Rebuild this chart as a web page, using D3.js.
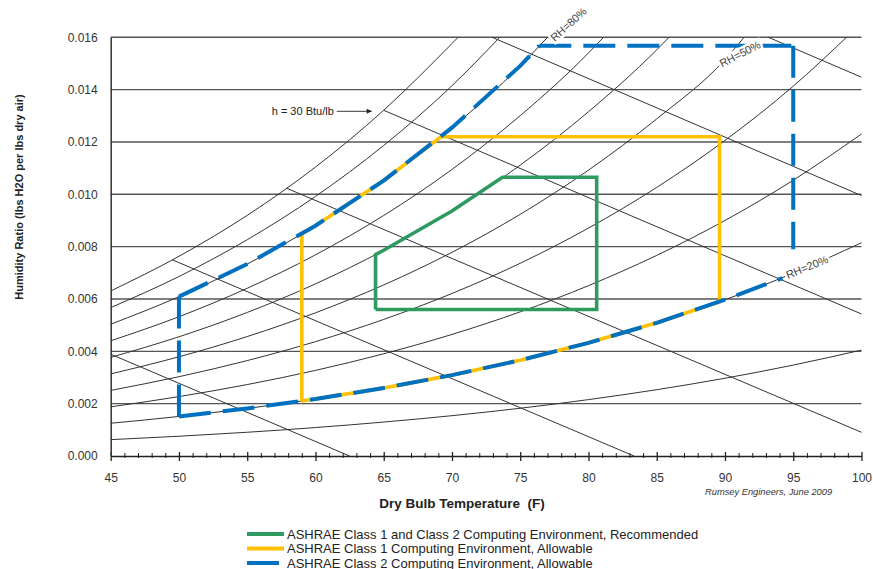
<!DOCTYPE html>
<html><head><meta charset="utf-8">
<script src="https://cdn.jsdelivr.net/npm/d3@7"></script>
<style>
body{margin:0;background:#fff;}
svg{display:block;font-family:Arial,"Liberation Sans",sans-serif;}
</style></head><body>
<svg id="chart" width="873" height="569"></svg>
<script>
// ---------- data ----------
const xTickLabels = [45,50,55,60,65,70,75,80,85,90,95,100];
const yTickLabels = [0.000,0.002,0.004,0.006,0.008,0.010,0.012,0.014,0.016];

// relative-humidity curves: [dry bulb F, humidity ratio]
const rh10  = [[45,0.000625],[50,0.000755],[55,0.000907],[60,0.001087],[65,0.001297],[70,0.001541],[75,0.001825],[80,0.002155],[85,0.002534],[90,0.002972],[95,0.003474],[100,0.004048]];
const rh20  = [[45,0.001251],[50,0.001511],[55,0.001818],[60,0.002177],[65,0.002599],[70,0.003090],[75,0.003661],[80,0.004324],[85,0.005090],[90,0.005972],[95,0.006987],[100,0.008150]];
const rh30  = [[45,0.001878],[50,0.002270],[55,0.002730],[60,0.003271],[65,0.003906],[70,0.004646],[75,0.005508],[80,0.006509],[85,0.007666],[90,0.009001],[95,0.010539],[100,0.012305]];
const rh40  = [[45,0.002507],[50,0.003030],[55,0.003646],[60,0.004370],[65,0.005219],[70,0.006210],[75,0.007366],[80,0.008709],[85,0.010264],[90,0.012060],[95,0.014132],[98.9,0.016]];
const rh50  = [[45,0.003137],[50,0.003792],[55,0.004564],[60,0.005472],[65,0.006537],[70,0.007782],[75,0.009235],[80,0.010924],[85,0.012883],[90,0.015148],[91.4,0.016]];
const rh60  = [[45,0.003768],[50,0.004556],[55,0.005485],[60,0.006577],[65,0.007861],[70,0.009362],[75,0.011115],[80,0.013155],[85,0.015523],[85.9,0.016]];
const rh70  = [[45,0.004401],[50,0.005322],[55,0.006409],[60,0.007687],[65,0.009191],[70,0.010950],[75,0.013006],[80,0.015402],[81.1,0.016]];
const rh80  = [[45,0.005035],[50,0.006089],[55,0.007335],[60,0.008801],[65,0.010526],[70,0.012546],[75,0.014908],[77.0,0.016]];
const rh90  = [[45,0.005670],[50,0.006859],[55,0.008264],[60,0.009919],[65,0.011867],[70,0.014150],[73.5,0.016]];
const rh100 = [[45,0.006306],[50,0.007631],[55,0.009196],[60,0.011041],[65,0.013213],[70,0.015762],[70.45,0.016]];

// enthalpy lines (15..40 Btu/lb)
const enth15 = [[45,0.00389],[62.5,0]];
const enth20 = [[49.5,0.00750],[83.33,0]];
const enth25 = [[57.9,0.01023],[100,0.000905]];
const enth30 = [[65,0.01321],[100,0.005428]];
const enth35 = [[72.94,0.016],[100,0.009951]];
const enth40 = [[93.18,0.016],[100,0.014474]];

// ASHRAE envelopes
const recommended = [[64.4,0.0056],[64.4,0.0077],[65,0.007861],[70,0.009362],[73.7,0.01065],[80.6,0.01065],[80.6,0.0056],[64.4,0.0056]];
const class1 = [[59,0.0021],[59,0.00849],[60,0.008801],[65,0.010526],[69.2,0.0122],[89.6,0.0122],[89.6,0.005896],[85,0.005090],[80,0.004324],[75,0.003661],[70,0.003090],[65,0.002599],[60,0.002177],[59,0.0021]];
const class2Left  = [[50,0.001511],[50,0.006089]];
const class2Rh80  = [[50,0.006089],[55,0.007335],[60,0.008801],[65,0.010526],[70,0.012546],[75,0.014908],[76.4,0.01568]];
const class2Top   = [[76.4,0.01568],[95,0.01568]];
const class2Right = [[95,0.01568],[95,0.0079]];
const class2Rh20  = [[50,0.001511],[55,0.001818],[60,0.002177],[65,0.002599],[70,0.003090],[75,0.003661],[80,0.004324],[85,0.005090],[90,0.005972],[94.2,0.0068]];

const legendLabels = [
  "ASHRAE Class 1 and Class 2 Computing Environment, Recommended",
  "ASHRAE Class 1 Computing Environment, Allowable",
  "ASHRAE Class 2 Computing Environment, Allowable"
];

// ---------- drawing ----------
const svg = d3.select("#chart");
const x = d3.scaleLinear().domain([45,100]).range([110.7,861.5]);
const y = d3.scaleLinear().domain([0,0.016]).range([456,37.3]);

const GREEN = "#2f9a60", YELLOW = "#ffc000", BLUE = "#0070c0";

// horizontal grid
svg.append("g").selectAll("line").data(yTickLabels.filter(d=>d>0)).join("line")
  .attr("x1", x(45)).attr("x2", x(100))
  .attr("y1", d=>y(d)).attr("y2", d=>y(d))
  .attr("stroke","#555").attr("stroke-width",1.4);

const lineGen = d3.line().x(d=>x(d[0])).y(d=>y(d[1]));
const curveGen = d3.line().x(d=>x(d[0])).y(d=>y(d[1])).curve(d3.curveMonotoneX);

// psychrometric background lines
const gPsy = svg.append("g").attr("fill","none").attr("stroke","#333").attr("stroke-width",1);
[rh10,rh20,rh30,rh40,rh50,rh60,rh70,rh80,rh90,rh100].forEach(c=>gPsy.append("path").attr("d",curveGen(c)));
[enth15,enth20,enth25,enth30,enth35,enth40].forEach(c=>gPsy.append("path").attr("d",lineGen(c)));

// envelopes
svg.append("path").attr("d",lineGen(recommended)).attr("fill","none")
  .attr("stroke",GREEN).attr("stroke-width",3.6).attr("stroke-linejoin","miter");
svg.append("path").attr("d",lineGen(class1)).attr("fill","none")
  .attr("stroke",YELLOW).attr("stroke-width",3.6).attr("stroke-linejoin","miter");
const gBlue = svg.append("g").attr("fill","none").attr("stroke",BLUE).attr("stroke-width",4)
  .attr("stroke-dasharray","32,12");
[class2Left,class2Rh80,class2Top,class2Right,class2Rh20].forEach(c=>gBlue.append("path").attr("d",lineGen(c)));

// axes
const xAxisG = svg.append("g").attr("transform",`translate(0,${y(0)})`)
  .call(d3.axisBottom(x).tickValues(xTickLabels).tickSize(5).tickSizeOuter(0).tickPadding(12.5));
xAxisG.select(".domain").attr("stroke","#222").attr("stroke-width",1.6);
xAxisG.selectAll(".tick line").attr("y1",-4).attr("y2",5).attr("stroke","#222").attr("stroke-width",1.3);
xAxisG.selectAll(".tick text").attr("font-size",12).attr("fill","#333").attr("font-family","Arial, Liberation Sans, sans-serif");

const minorG = svg.append("g").attr("transform",`translate(0,${y(0)})`)
  .call(d3.axisBottom(x).tickValues(d3.range(45,101,1).filter(v=>v%5!==0)).tickSize(2).tickSizeOuter(0).tickFormat(""));
minorG.select(".domain").remove();
minorG.selectAll(".tick line").attr("y1",-3).attr("y2",2).attr("stroke","#222").attr("stroke-width",1);

const yAxisG = svg.append("g").attr("transform",`translate(${x(45)},0)`)
  .call(d3.axisLeft(y).tickValues(yTickLabels).tickFormat(d3.format(".3f")).tickSize(0).tickSizeOuter(0).tickPadding(13));
yAxisG.select(".domain").attr("stroke","#333").attr("stroke-width",1.5);
yAxisG.selectAll(".tick text").attr("font-size",12).attr("fill","#333").attr("font-family","Arial, Liberation Sans, sans-serif");

// axis titles
svg.append("text").attr("x",462).attr("y",508).attr("text-anchor","middle")
  .attr("font-size",13.5).attr("font-weight","bold").attr("fill","#222").style("white-space","pre")
  .text("Dry Bulb Temperature  (F)");
svg.append("text").attr("transform","translate(23,197) rotate(-90)").attr("text-anchor","middle")
  .attr("font-size",11).attr("font-weight","bold").attr("fill","#222")
  .text("Humidity Ratio (lbs H2O per lbs dry air)");

// curve labels with white halo
function halo(tx,ty,rot,txt){
  const g = svg.append("g").attr("transform",`translate(${tx},${ty}) rotate(${rot})`);
  g.append("text").attr("text-anchor","middle").attr("dy","0.35em").attr("font-size",11)
    .attr("fill","#444").attr("stroke","#fff").attr("stroke-width",5).attr("paint-order","stroke")
    .text(txt);
}
halo(x(77)+21, y(0.016)-13, -42, "RH=80%");
halo(740, 54, -27, "RH=50%");
halo(807, 267, -22, "RH=20%");

// enthalpy annotation
const hx = x(enth30[0][0]), hy = y(enth30[0][1]);
svg.append("text").attr("x",hx-112).attr("y",hy+4.5).attr("font-size",11).attr("fill","#222")
  .text("h = 30 Btu/lb");
svg.append("line").attr("x1",hx-47).attr("x2",hx-12).attr("y1",hy+1).attr("y2",hy+1)
  .attr("stroke","#222").attr("stroke-width",0.9);
svg.append("path").attr("d",`M${hx-12},${hy+1} l-5,-2.5 l0,5 z`).attr("fill","#222");

// credit
svg.append("text").attr("x",705).attr("y",495).attr("font-size",9.3).attr("font-style","italic")
  .attr("fill","#333").text("Rumsey Engineers, June 2009");

// legend
const legendColors = [GREEN, YELLOW, BLUE];
const legendRowY = [534, 548.5, 563];
const lg = svg.append("g");
legendLabels.forEach((lab,i)=>{
  lg.append("line").attr("x1",247).attr("x2", i===2 ? 279 : 284)
    .attr("y1",legendRowY[i]).attr("y2",legendRowY[i])
    .attr("stroke",legendColors[i]).attr("stroke-width",4);
  lg.append("text").attr("x",287).attr("y",legendRowY[i]+4.5).attr("font-size",13).attr("fill","#222")
    .text(lab);
});
</script>
</body></html>
